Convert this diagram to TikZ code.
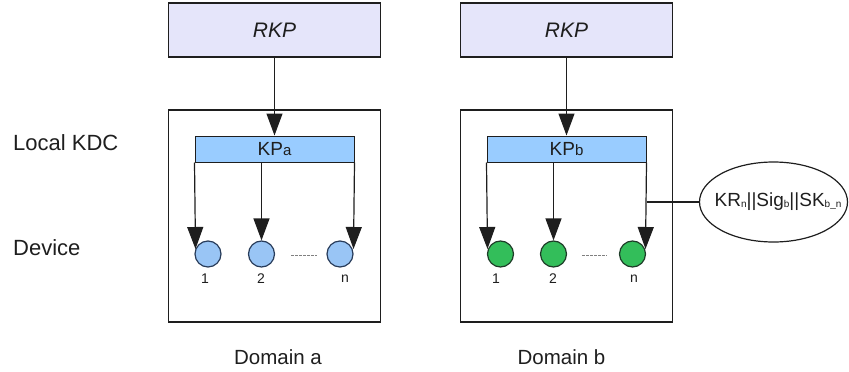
\documentclass[tikz,border=0pt]{standalone}
\usepackage{fontspec}
\setmainfont{Liberation Sans}
\usetikzlibrary{arrows.meta,shapes.geometric}

\definecolor{rkpfill}{RGB}{229,229,250}
\definecolor{kpfill}{RGB}{153,204,255}
\definecolor{devblue}{RGB}{153,197,245}
\definecolor{devgreen}{RGB}{51,190,90}
\definecolor{ink}{RGB}{30,30,30}
\definecolor{rimblue}{RGB}{40,60,90}
\definecolor{rimgreen}{RGB}{30,60,40}

\newcommand{\setfs}[1]{\fontsize{#1}{#1}\selectfont}
\newcommand{\sub}[1]{\raisebox{-1pt}{\setfs{10}#1}}

\tikzset{
  rkpbox/.style={draw=ink, line width=1.4pt, fill=rkpfill, minimum width=212pt,
    minimum height=54pt, inner sep=0pt, font=\setfs{21}\itshape, text=ink},
  domainbox/.style={draw=ink, line width=1.2pt, minimum width=212pt,
    minimum height=212pt, inner sep=0pt},
  kpbar/.style={draw=ink, line width=1pt, fill=kpfill, minimum width=159pt,
    minimum height=26pt, inner sep=0pt, font=\setfs{19}, text=ink},
  devblue/.style={circle, draw=rimblue, line width=1.2pt, fill=devblue,
    minimum size=26pt, inner sep=0pt},
  devgreen/.style={circle, draw=rimgreen, line width=1.2pt, fill=devgreen,
    minimum size=26pt, inner sep=0pt},
  numlbl/.style={font=\setfs{14}, text=ink, inner sep=0pt},
  sidelbl/.style={font=\setfs{22}, text=ink, inner sep=0pt, anchor=west},
  domlbl/.style={font=\setfs{20.5}, text=ink, inner sep=0pt},
  bigtip/.tip={Triangle[length=22pt, width=16pt]},
  arr/.style={draw=ink, line width=1.2pt, arrows={-bigtip}},
  conn/.style={draw=ink, line width=1.2pt},
  dotline/.style={draw=gray, line width=1pt, dash pattern=on 2.5pt off 1.5pt},
  notebox/.style={ellipse, draw=ink, line width=1.2pt, minimum width=148pt,
    minimum height=80pt, inner sep=0pt}
}

\begin{document}
\begin{tikzpicture}[x=1pt, y=-1pt]
\useasboundingbox (0,0) rectangle (849,372);

% row labels
\node[sidelbl] (lkdc) at (13,143) {Local KDC};
\node[sidelbl] (ldev) at (13,248) {Device};

% ---------- domain a ----------
\node[rkpbox] (rkpa) at (274.5,30) {RKP};
\node[domainbox] (doma) at (274.5,216) {};
\node[kpbar] (kpa) at (274.5,149) {KP{\setfs{15}a}};
\node[devblue] (da1) at (208,254) {};
\node[devblue] (da2) at (261.5,254) {};
\node[devblue] (dan) at (340,254) {};
\node[numlbl] (la1) at (205,279) {1};
\node[numlbl] (la2) at (261,279) {2};
\node[numlbl] (lan) at (345,279) {n};
\node[domlbl] (dlabela) at (278,357) {Domain a};

\coordinate (ta1) at (195.5,249);
\coordinate (tan) at (353.5,249);
\draw[arr] (rkpa.south) -- (kpa.north);
\draw[arr] (kpa.south west) -- (ta1);
\draw[arr] (kpa.south -| da2) -- (da2.north);
\draw[arr] (kpa.south east) -- (tan);
\coordinate (dsa) at (291,255);
\coordinate (dea) at (317,255);
\draw[dotline] (dsa) -- (dea);

% ---------- domain b ----------
\node[rkpbox] (rkpb) at (566.5,30) {RKP};
\node[domainbox] (domb) at (566.5,216) {};
\node[kpbar] (kpb) at (566.5,149) {KP{\setfs{15}b}};
\node[devgreen] (db1) at (500.5,254) {};
\node[devgreen] (db2) at (553.5,254) {};
\node[devgreen] (dbn) at (632.5,254) {};
\node[numlbl] (lb1) at (496,279) {1};
\node[numlbl] (lb2) at (553,279) {2};
\node[numlbl] (lbn) at (634,279) {n};
\node[domlbl] (dlabelb) at (561.5,357) {Domain b};

\coordinate (tb1) at (487.5,249);
\coordinate (tbn) at (645.5,249);
\draw[arr] (rkpb.south) -- (kpb.north);
\draw[arr] (kpb.south west) -- (tb1);
\draw[arr] (kpb.south -| db2) -- (db2.north);
\draw[arr] (kpb.south east) -- (tbn);
\coordinate (dsb) at (582,255);
\coordinate (deb) at (607,255);
\draw[dotline] (dsb) -- (deb);

% key material sent to device n
\node[notebox] (note) at (773.5,202) {};
\node[font=\setfs{19}, text=ink, inner sep=0pt] (notetext) at (778,202)
  {KR\sub{n}||Sig\sub{b}||SK\sub{b\_n}};
\draw[conn] (kpb.south east |- note.west) -- (note.west);
\end{tikzpicture}
\end{document}
